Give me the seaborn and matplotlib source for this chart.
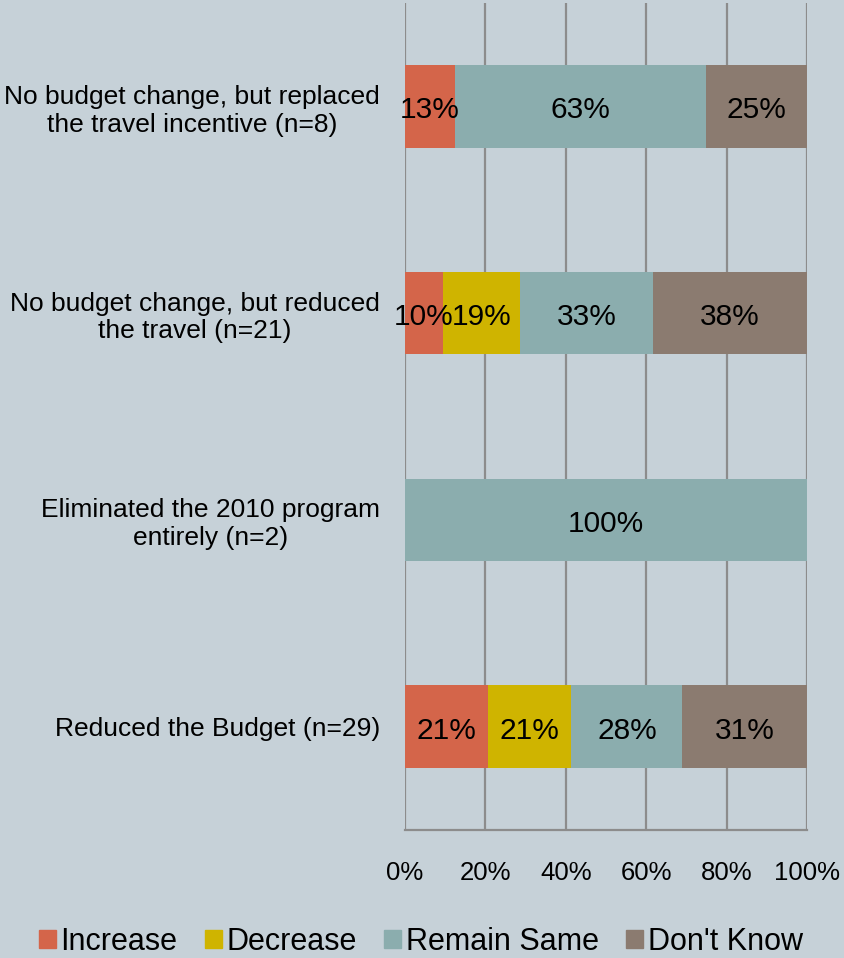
import matplotlib
matplotlib.use("Agg")
import matplotlib.pyplot as plt
import numpy as np
import pandas as pd
import seaborn as sns

categories = [
    "No budget change, but replaced\nthe travel incentive (n=8)",
    "No budget change, but reduced\nthe travel (n=21)",
    "Eliminated the 2010 program\nentirely (n=2)",
    "Reduced the Budget (n=29)",
]
responses = ["Increase", "Decrease", "Remain Same", "Don't Know"]
increase = [12.5, 9.5, 0.0, 20.7]
decrease = [0.0, 19.0, 0.0, 20.7]
remain_same = [62.5, 33.3, 100.0, 27.6]
dont_know = [25.0, 38.1, 0.0, 31.0]
x_ticks = [0, 20, 40, 60, 80, 100]

colors = {
    "Increase": "#D4654A",
    "Decrease": "#CFB400",
    "Remain Same": "#8BADAE",
    "Don't Know": "#8B7B70",
}
bg = "#C6D1D8"

sns.set_theme(style="white")
plt.rcParams["font.family"] = ["Liberation Sans", "DejaVu Sans"]
plt.rcParams["text.color"] = "black"
plt.rcParams["xtick.color"] = "black"
plt.rcParams["ytick.color"] = "black"

df = pd.DataFrame(
    {"Increase": increase, "Decrease": decrease,
     "Remain Same": remain_same, "Don't Know": dont_know},
    index=categories,
)
cum = df.cumsum(axis=1)

fig = plt.figure(figsize=(8.45, 9.58), dpi=100, facecolor=bg)
ax = fig.add_axes([0.4793, 0.1336, 0.4757, 0.8633], facecolor=bg)

for x in x_ticks:
    ax.axvline(x, color="#8C8C8C", lw=1.6, zorder=0)

# draw cumulative totals back to front so each segment shows
for resp in responses[::-1]:
    sns.barplot(x=cum[resp].values, y=categories, color=colors[resp],
                orient="h", width=0.4, ax=ax, saturation=1,
                edgecolor="none", linewidth=0, zorder=2)

for i, cat in enumerate(categories):
    for resp in responses:
        v = df.loc[cat, resp]
        if v <= 0:
            continue
        center = cum.loc[cat, resp] - v / 2
        ax.text(center, i + 0.02, f"{int(np.floor(v + 0.5))}%", ha="center",
                va="center", fontsize=21.5, color="black", zorder=3)

ax.set_xlim(0, 100)
ax.set_ylim(3.5, -0.5)
ax.set_xticks(x_ticks)
ax.set_xticklabels([f"{t}%" for t in x_ticks], fontsize=18.5)
ax.tick_params(axis="x", length=0, pad=22)
ax.tick_params(axis="y", length=0, pad=18)
for lab in ax.get_yticklabels():
    lab.set_fontsize(19)
    lab.set_multialignment("center")
ax.set_xlabel("")
ax.set_ylabel("")
for s in ["top", "right", "left"]:
    ax.spines[s].set_visible(False)
ax.spines["bottom"].set_color("#8C8C8C")
ax.spines["bottom"].set_linewidth(1.6)

handles = [plt.Rectangle((0, 0), 1, 1, color=colors[r]) for r in responses]
fig.legend(handles, responses, loc="center", bbox_to_anchor=(0.498, 0.017),
           ncol=4, frameon=False, fontsize=22, handlelength=0.55,
           handleheight=0.55, handletextpad=0.15, columnspacing=0.9)

fig.savefig("out.png", dpi=100, facecolor=bg)
